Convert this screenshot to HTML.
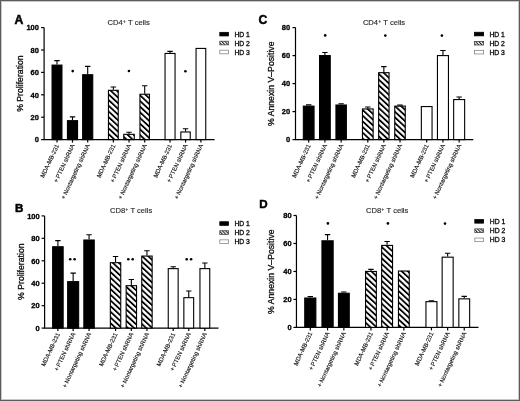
<!DOCTYPE html>
<html><head><meta charset="utf-8"><title>Figure</title>
<style>
html,body{margin:0;padding:0;background:#fff;}
#fig{position:relative;width:520px;height:401px;overflow:hidden;background:#fff;}
svg{position:absolute;left:0;top:0;display:block;will-change:transform;}
text{font-family:"Liberation Sans", sans-serif;fill:#000;stroke:#000;stroke-width:0.3px;}
.L{font-weight:bold;stroke-width:0.5px;}
.T{font-size:7.6px;fill:#2a2a2a;stroke:#2a2a2a;stroke-width:0.15px;}
.sup{font-size:4.6px;}
.YT{font-size:8.7px;text-anchor:middle;fill:#222;}
.tk{font-size:7.5px;font-weight:bold;text-anchor:end;}
.xl{font-size:6.0px;text-anchor:end;fill:#111;stroke-width:0.12px;}
.lg{font-size:6.8px;fill:#111;}
.ax{stroke:#000;stroke-width:1.2;fill:none;}
.eb{stroke:#000;stroke-width:1.1;fill:none;}
.bar{stroke:#000;stroke-width:1.1;}
.st{fill:#000;}
</style></head>
<body><div id="fig">
<svg width="520" height="401" viewBox="0 0 520 401">
<defs>
<pattern id="hatch" patternUnits="userSpaceOnUse" width="4.15" height="10" patternTransform="rotate(-47)">
<rect x="0" y="0" width="2.0" height="10" fill="#000"/><rect x="2.0" y="0" width="2.15" height="10" fill="#fff"/>
</pattern>
<pattern id="hatchs" patternUnits="userSpaceOnUse" width="2.3" height="10" patternTransform="translate(0.6,0) rotate(-45)">
<rect x="0" y="0" width="1.2" height="10" fill="#1a1a1a"/><rect x="1.2" y="0" width="1.1" height="10" fill="#fff"/>
</pattern>
</defs>
<rect x="1.5" y="1.5" width="517" height="398" fill="none" stroke="#c8c8c8" stroke-width="1"/>
<rect x="0.5" y="0.5" width="519" height="400" fill="none" stroke="#5c5c5c" stroke-width="1"/>
<text x="14.6" y="23.7" class="L" style="font-size:12.2px">A</text>
<text x="107.6" y="25.35" class="T">CD4<tspan class="sup" dx="0.3" dy="-2.4">+</tspan><tspan dx="0.3" dy="2.4"> T cells</tspan></text>
<text transform="translate(23,83.6) rotate(-90)" class="YT">% Proliferation</text>
<path class="ax" d="M44.1 27.6V139.6H214.6"/>
<path class="ax" d="M41.1 139.6H44.1"/>
<text x="38.9" y="142.35" class="tk">0</text>
<path class="ax" d="M41.1 117.2H44.1"/>
<text x="38.9" y="119.95" class="tk">20</text>
<path class="ax" d="M41.1 94.8H44.1"/>
<text x="38.9" y="97.55" class="tk">40</text>
<path class="ax" d="M41.1 72.4H44.1"/>
<text x="38.9" y="75.15" class="tk">60</text>
<path class="ax" d="M41.1 50H44.1"/>
<text x="38.9" y="52.75" class="tk">80</text>
<path class="ax" d="M41.1 27.6H44.1"/>
<text x="38.9" y="30.35" class="tk">100</text>
<path class="eb" d="M57 64.56V60.64M54.3 60.64H59.7"/>
<rect class="bar" x="52.05" y="65.11" width="9.9" height="74.49" fill="#000"/>
<path class="ax" d="M57 139.6V142.6"/>
<text transform="translate(59.2,145.4) rotate(-65.0)" class="xl">MDA-MB-231</text>
<path class="eb" d="M72.5 120.11V116.86M69.8 116.86H75.2"/>
<rect class="bar" x="67.45" y="120.66" width="10.1" height="18.94" fill="#000"/>
<path class="ax" d="M72.5 139.6V142.6"/>
<text transform="translate(74.7,145.4) rotate(-65.0)" class="xl">+<tspan dx="1.3">PTEN shRNA</tspan></text>
<path class="eb" d="M87.7 74.19V66.35M85 66.35H90.4"/>
<rect class="bar" x="82.65" y="74.74" width="10.1" height="64.86" fill="#000"/>
<path class="ax" d="M87.7 139.6V142.6"/>
<text transform="translate(89.9,145.4) rotate(-65.0)" class="xl">+<tspan dx="1.3">Nontargeting shRNA</tspan></text>
<path class="eb" d="M113.35 89.76V86.96M110.65 86.96H116.05"/>
<rect class="bar" x="108.45" y="90.31" width="9.8" height="49.29" fill="url(#hatch)"/>
<path class="ax" d="M113.35 139.6V142.6"/>
<text transform="translate(115.55,145.4) rotate(-65.0)" class="xl">MDA-MB-231</text>
<path class="eb" d="M129 133.78V132.32M126.3 132.32H131.7"/>
<rect class="bar" x="123.75" y="134.33" width="10.5" height="5.27" fill="url(#hatch)"/>
<path class="ax" d="M129 139.6V142.6"/>
<text transform="translate(131.2,145.4) rotate(-65.0)" class="xl">+<tspan dx="1.3">PTEN shRNA</tspan></text>
<path class="eb" d="M144.7 93.68V85.73M142 85.73H147.4"/>
<rect class="bar" x="139.95" y="94.23" width="9.5" height="45.37" fill="url(#hatch)"/>
<path class="ax" d="M144.7 139.6V142.6"/>
<text transform="translate(146.9,145.4) rotate(-65.0)" class="xl">+<tspan dx="1.3">Nontargeting shRNA</tspan></text>
<path class="eb" d="M170.05 52.91V51.34M167.35 51.34H172.75"/>
<rect class="bar" x="165.05" y="53.46" width="10" height="86.14" fill="#fff"/>
<path class="ax" d="M170.05 139.6V142.6"/>
<text transform="translate(172.25,145.4) rotate(-65.0)" class="xl">MDA-MB-231</text>
<path class="eb" d="M185.55 131.42V128.74M182.85 128.74H188.25"/>
<rect class="bar" x="180.85" y="131.97" width="9.4" height="7.63" fill="#fff"/>
<path class="ax" d="M185.55 139.6V142.6"/>
<text transform="translate(187.75,145.4) rotate(-65.0)" class="xl">+<tspan dx="1.3">PTEN shRNA</tspan></text>
<rect class="bar" x="196.05" y="48.42" width="9.7" height="91.18" fill="#fff"/>
<path class="ax" d="M200.9 139.6V142.6"/>
<text transform="translate(203.1,145.4) rotate(-65.0)" class="xl">+<tspan dx="1.3">Nontargeting shRNA</tspan></text>
<circle cx="72.7" cy="71.1" r="1.3" class="st"/>
<circle cx="128.9" cy="71" r="1.3" class="st"/>
<circle cx="185.4" cy="71.2" r="1.3" class="st"/>
<rect x="219.8" y="32.35" width="8.6" height="3.6" fill="#000" stroke="#000" stroke-width="0.8"/>
<text x="234.4" y="36.65" class="lg">HD 1</text>
<rect x="219.8" y="41.25" width="8.6" height="3.6" fill="url(#hatchs)" stroke="#444" stroke-width="0.8"/>
<text x="234.4" y="45.55" class="lg">HD 2</text>
<rect x="219.8" y="50.2" width="8.6" height="3.6" fill="#fff" stroke="#888" stroke-width="0.8"/>
<text x="234.4" y="54.5" class="lg">HD 3</text>
<text x="14.9" y="212.2" class="L" style="font-size:11.6px">B</text>
<text x="110" y="213.05" class="T">CD8<tspan class="sup" dx="0.3" dy="-2.4">+</tspan><tspan dx="0.3" dy="2.4"> T cells</tspan></text>
<text transform="translate(23.7,271.7) rotate(-90)" class="YT">% Proliferation</text>
<path class="ax" d="M44.6 215.9V328.1H218.5"/>
<path class="ax" d="M41.6 328.1H44.6"/>
<text x="39.65" y="330.85" class="tk">0</text>
<path class="ax" d="M41.6 305.66H44.6"/>
<text x="39.65" y="308.41" class="tk">20</text>
<path class="ax" d="M41.6 283.22H44.6"/>
<text x="39.65" y="285.97" class="tk">40</text>
<path class="ax" d="M41.6 260.78H44.6"/>
<text x="39.65" y="263.53" class="tk">60</text>
<path class="ax" d="M41.6 238.34H44.6"/>
<text x="39.65" y="241.09" class="tk">80</text>
<path class="ax" d="M41.6 215.9H44.6"/>
<text x="39.65" y="218.65" class="tk">100</text>
<path class="eb" d="M57.9 246.19V240.58M55.2 240.58H60.6"/>
<rect class="bar" x="52.65" y="246.74" width="10.5" height="81.36" fill="#000"/>
<path class="ax" d="M57.9 328.1V331.1"/>
<text transform="translate(60.1,333.9) rotate(-65.0)" class="xl">MDA-MB-231</text>
<path class="eb" d="M73.15 281.09V273.12M70.45 273.12H75.85"/>
<rect class="bar" x="67.65" y="281.64" width="11" height="46.46" fill="#000"/>
<path class="ax" d="M73.15 328.1V331.1"/>
<text transform="translate(75.35,333.9) rotate(-65.0)" class="xl">+<tspan dx="1.3">PTEN shRNA</tspan></text>
<path class="eb" d="M89.05 239.46V234.75M86.35 234.75H91.75"/>
<rect class="bar" x="83.85" y="240.01" width="10.4" height="88.09" fill="#000"/>
<path class="ax" d="M89.05 328.1V331.1"/>
<text transform="translate(91.25,333.9) rotate(-65.0)" class="xl">+<tspan dx="1.3">Nontargeting shRNA</tspan></text>
<path class="eb" d="M115.55 262.13V256.52M112.85 256.52H118.25"/>
<rect class="bar" x="110.35" y="262.68" width="10.4" height="65.42" fill="url(#hatch)"/>
<path class="ax" d="M115.55 328.1V331.1"/>
<text transform="translate(117.75,333.9) rotate(-65.0)" class="xl">MDA-MB-231</text>
<path class="eb" d="M131.35 285.13V279.52M128.65 279.52H134.05"/>
<rect class="bar" x="126.15" y="285.68" width="10.4" height="42.42" fill="url(#hatch)"/>
<path class="ax" d="M131.35 328.1V331.1"/>
<text transform="translate(133.55,333.9) rotate(-65.0)" class="xl">+<tspan dx="1.3">PTEN shRNA</tspan></text>
<path class="eb" d="M146.95 255.51V250.68M144.25 250.68H149.65"/>
<rect class="bar" x="141.75" y="256.06" width="10.4" height="72.04" fill="url(#hatch)"/>
<path class="ax" d="M146.95 328.1V331.1"/>
<text transform="translate(149.15,333.9) rotate(-65.0)" class="xl">+<tspan dx="1.3">Nontargeting shRNA</tspan></text>
<path class="eb" d="M173.2 268.07V266.73M170.5 266.73H175.9"/>
<rect class="bar" x="168.25" y="268.62" width="9.9" height="59.48" fill="#fff"/>
<path class="ax" d="M173.2 328.1V331.1"/>
<text transform="translate(175.4,333.9) rotate(-65.0)" class="xl">MDA-MB-231</text>
<path class="eb" d="M188.75 297.13V291.07M186.05 291.07H191.45"/>
<rect class="bar" x="183.85" y="297.68" width="9.8" height="30.42" fill="#fff"/>
<path class="ax" d="M188.75 328.1V331.1"/>
<text transform="translate(190.95,333.9) rotate(-65.0)" class="xl">+<tspan dx="1.3">PTEN shRNA</tspan></text>
<path class="eb" d="M204.85 268.07V263.02M202.15 263.02H207.55"/>
<rect class="bar" x="199.95" y="268.62" width="9.8" height="59.48" fill="#fff"/>
<path class="ax" d="M204.85 328.1V331.1"/>
<text transform="translate(207.05,333.9) rotate(-65.0)" class="xl">+<tspan dx="1.3">Nontargeting shRNA</tspan></text>
<circle cx="70.2" cy="259.2" r="1.3" class="st"/>
<circle cx="74.6" cy="259.2" r="1.3" class="st"/>
<circle cx="128.3" cy="259.3" r="1.3" class="st"/>
<circle cx="132.7" cy="259.3" r="1.3" class="st"/>
<circle cx="186.7" cy="259.3" r="1.3" class="st"/>
<circle cx="191.1" cy="259.3" r="1.3" class="st"/>
<rect x="219.8" y="221.75" width="8.6" height="3.6" fill="#000" stroke="#000" stroke-width="0.8"/>
<text x="234.4" y="226.05" class="lg">HD 1</text>
<rect x="219.8" y="230.75" width="8.6" height="3.6" fill="url(#hatchs)" stroke="#444" stroke-width="0.8"/>
<text x="234.4" y="235.05" class="lg">HD 2</text>
<rect x="219.8" y="239.85" width="8.6" height="3.6" fill="#fff" stroke="#888" stroke-width="0.8"/>
<text x="234.4" y="244.15" class="lg">HD 3</text>
<text x="258.6" y="23.8" class="L" style="font-size:12.2px">C</text>
<text x="362.9" y="25.35" class="T">CD4<tspan class="sup" dx="0.3" dy="-2.4">+</tspan><tspan dx="0.3" dy="2.4"> T cells</tspan></text>
<text transform="translate(274.4,83.75) rotate(-90)" class="YT">% Annexin V–Positive</text>
<path class="ax" d="M295.5 27.6V139.6H473.3"/>
<path class="ax" d="M292.5 139.6H295.5"/>
<text x="290.1" y="142.35" class="tk">0</text>
<path class="ax" d="M292.5 111.6H295.5"/>
<text x="290.1" y="114.35" class="tk">20</text>
<path class="ax" d="M292.5 83.6H295.5"/>
<text x="290.1" y="86.35" class="tk">40</text>
<path class="ax" d="M292.5 55.6H295.5"/>
<text x="290.1" y="58.35" class="tk">60</text>
<path class="ax" d="M292.5 27.6H295.5"/>
<text x="290.1" y="30.35" class="tk">80</text>
<path class="eb" d="M308.7 105.58V104.88M306 104.88H311.4"/>
<rect class="bar" x="303.35" y="106.13" width="10.7" height="33.47" fill="#000"/>
<path class="ax" d="M308.7 139.6V142.6"/>
<text transform="translate(310.9,145.4) rotate(-65.0)" class="xl">MDA-MB-231</text>
<path class="eb" d="M324.9 55.04V52.52M322.2 52.52H327.6"/>
<rect class="bar" x="319.55" y="55.59" width="10.7" height="84.01" fill="#000"/>
<path class="ax" d="M324.9 139.6V142.6"/>
<text transform="translate(327.1,145.4) rotate(-65.0)" class="xl">+<tspan dx="1.3">PTEN shRNA</tspan></text>
<path class="eb" d="M341.15 104.46V103.76M338.45 103.76H343.85"/>
<rect class="bar" x="335.95" y="105.01" width="10.4" height="34.59" fill="#000"/>
<path class="ax" d="M341.15 139.6V142.6"/>
<text transform="translate(343.35,145.4) rotate(-65.0)" class="xl">+<tspan dx="1.3">Nontargeting shRNA</tspan></text>
<path class="eb" d="M367.8 108.38V106.98M365.1 106.98H370.5"/>
<rect class="bar" x="362.45" y="108.93" width="10.7" height="30.67" fill="url(#hatch)"/>
<path class="ax" d="M367.8 139.6V142.6"/>
<text transform="translate(370,145.4) rotate(-65.0)" class="xl">MDA-MB-231</text>
<path class="eb" d="M383.85 72.12V66.66M381.15 66.66H386.55"/>
<rect class="bar" x="378.65" y="72.67" width="10.4" height="66.93" fill="url(#hatch)"/>
<path class="ax" d="M383.85 139.6V142.6"/>
<text transform="translate(386.05,145.4) rotate(-65.0)" class="xl">+<tspan dx="1.3">PTEN shRNA</tspan></text>
<path class="eb" d="M400 105.58V105.16M397.3 105.16H402.7"/>
<rect class="bar" x="394.75" y="106.13" width="10.5" height="33.47" fill="url(#hatch)"/>
<path class="ax" d="M400 139.6V142.6"/>
<text transform="translate(402.2,145.4) rotate(-65.0)" class="xl">+<tspan dx="1.3">Nontargeting shRNA</tspan></text>
<rect class="bar" x="421.35" y="106.55" width="10.7" height="33.05" fill="#fff"/>
<path class="ax" d="M426.7 139.6V142.6"/>
<text transform="translate(428.9,145.4) rotate(-65.0)" class="xl">MDA-MB-231</text>
<path class="eb" d="M442.95 55.04V50.56M440.25 50.56H445.65"/>
<rect class="bar" x="437.45" y="55.59" width="11" height="84.01" fill="#fff"/>
<path class="ax" d="M442.95 139.6V142.6"/>
<text transform="translate(445.15,145.4) rotate(-65.0)" class="xl">+<tspan dx="1.3">PTEN shRNA</tspan></text>
<path class="eb" d="M459.15 99V97.04M456.45 97.04H461.85"/>
<rect class="bar" x="453.65" y="99.55" width="11" height="40.05" fill="#fff"/>
<path class="ax" d="M459.15 139.6V142.6"/>
<text transform="translate(461.35,145.4) rotate(-65.0)" class="xl">+<tspan dx="1.3">Nontargeting shRNA</tspan></text>
<circle cx="325.2" cy="35.4" r="1.3" class="st"/>
<circle cx="385.3" cy="35.6" r="1.3" class="st"/>
<circle cx="441.9" cy="35.6" r="1.3" class="st"/>
<rect x="474.5" y="32.25" width="9.1" height="3.6" fill="#000" stroke="#000" stroke-width="0.8"/>
<text x="489.4" y="36.55" class="lg">HD 1</text>
<rect x="474.5" y="41.4" width="9.1" height="3.6" fill="url(#hatchs)" stroke="#444" stroke-width="0.8"/>
<text x="489.4" y="45.7" class="lg">HD 2</text>
<rect x="474.5" y="50.35" width="9.1" height="3.6" fill="#fff" stroke="#888" stroke-width="0.8"/>
<text x="489.4" y="54.65" class="lg">HD 3</text>
<text x="259.3" y="208.3" class="L" style="font-size:11.6px">D</text>
<text x="366.1" y="213.35" class="T">CD8<tspan class="sup" dx="0.3" dy="-2.4">+</tspan><tspan dx="0.3" dy="2.4"> T cells</tspan></text>
<text transform="translate(274.4,271.7) rotate(-90)" class="YT">% Annexin V–Positive</text>
<path class="ax" d="M296.45 215.5V327.4H478.5"/>
<path class="ax" d="M293.45 327.4H296.45"/>
<text x="291.7" y="330.15" class="tk">0</text>
<path class="ax" d="M293.45 299.42H296.45"/>
<text x="291.7" y="302.17" class="tk">20</text>
<path class="ax" d="M293.45 271.45H296.45"/>
<text x="291.7" y="274.2" class="tk">40</text>
<path class="ax" d="M293.45 243.47H296.45"/>
<text x="291.7" y="246.22" class="tk">60</text>
<path class="ax" d="M293.45 215.5H296.45"/>
<text x="291.7" y="218.25" class="tk">80</text>
<path class="eb" d="M310.3 297.47V296.49M307.6 296.49H313"/>
<rect class="bar" x="304.75" y="298.02" width="11.1" height="29.38" fill="#000"/>
<path class="ax" d="M310.3 327.4V330.4"/>
<text transform="translate(312.5,333.2) rotate(-65.0)" class="xl">MDA-MB-231</text>
<path class="eb" d="M327.55 240.26V234.66M324.85 234.66H330.25"/>
<rect class="bar" x="321.95" y="240.81" width="11.2" height="86.59" fill="#000"/>
<path class="ax" d="M327.55 327.4V330.4"/>
<text transform="translate(329.75,333.2) rotate(-65.0)" class="xl">+<tspan dx="1.3">PTEN shRNA</tspan></text>
<path class="eb" d="M343.85 292.71V292.01M341.15 292.01H346.55"/>
<rect class="bar" x="338.45" y="293.26" width="10.8" height="34.14" fill="#000"/>
<path class="ax" d="M343.85 327.4V330.4"/>
<text transform="translate(346.05,333.2) rotate(-65.0)" class="xl">+<tspan dx="1.3">Nontargeting shRNA</tspan></text>
<path class="eb" d="M370.95 270.89V269.35M368.25 269.35H373.65"/>
<rect class="bar" x="365.55" y="271.44" width="10.8" height="55.96" fill="url(#hatch)"/>
<path class="ax" d="M370.95 327.4V330.4"/>
<text transform="translate(373.15,333.2) rotate(-65.0)" class="xl">MDA-MB-231</text>
<path class="eb" d="M387.1 244.87V241.52M384.4 241.52H389.8"/>
<rect class="bar" x="381.65" y="245.42" width="10.9" height="81.98" fill="url(#hatch)"/>
<path class="ax" d="M387.1 327.4V330.4"/>
<text transform="translate(389.3,333.2) rotate(-65.0)" class="xl">+<tspan dx="1.3">PTEN shRNA</tspan></text>
<rect class="bar" x="398.45" y="271.02" width="10.8" height="56.38" fill="url(#hatch)"/>
<path class="ax" d="M403.85 327.4V330.4"/>
<text transform="translate(406.05,333.2) rotate(-65.0)" class="xl">+<tspan dx="1.3">Nontargeting shRNA</tspan></text>
<path class="eb" d="M431.45 301.1V300.68M428.75 300.68H434.15"/>
<rect class="bar" x="425.95" y="301.65" width="11" height="25.75" fill="#fff"/>
<path class="ax" d="M431.45 327.4V330.4"/>
<text transform="translate(433.65,333.2) rotate(-65.0)" class="xl">MDA-MB-231</text>
<path class="eb" d="M447.65 256.62V253.27M444.95 253.27H450.35"/>
<rect class="bar" x="442.15" y="257.17" width="11" height="70.23" fill="#fff"/>
<path class="ax" d="M447.65 327.4V330.4"/>
<text transform="translate(449.85,333.2) rotate(-65.0)" class="xl">+<tspan dx="1.3">PTEN shRNA</tspan></text>
<path class="eb" d="M464.25 298.31V296.35M461.55 296.35H466.95"/>
<rect class="bar" x="458.85" y="298.86" width="10.8" height="28.54" fill="#fff"/>
<path class="ax" d="M464.25 327.4V330.4"/>
<text transform="translate(466.45,333.2) rotate(-65.0)" class="xl">+<tspan dx="1.3">Nontargeting shRNA</tspan></text>
<circle cx="327.9" cy="223.4" r="1.3" class="st"/>
<circle cx="387.9" cy="223.4" r="1.3" class="st"/>
<circle cx="445" cy="223.6" r="1.3" class="st"/>
<rect x="474.8" y="219.55" width="8.8" height="3.6" fill="#000" stroke="#000" stroke-width="0.8"/>
<text x="489.8" y="223.85" class="lg">HD 1</text>
<rect x="474.8" y="228.85" width="8.8" height="3.6" fill="url(#hatchs)" stroke="#444" stroke-width="0.8"/>
<text x="489.8" y="233.15" class="lg">HD 2</text>
<rect x="474.8" y="238.05" width="8.8" height="3.6" fill="#fff" stroke="#888" stroke-width="0.8"/>
<text x="489.8" y="242.35" class="lg">HD 3</text>
</svg>
</div></body></html>
